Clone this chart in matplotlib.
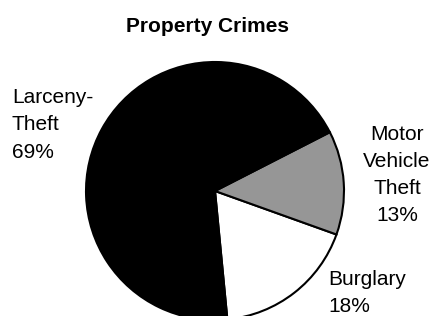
import matplotlib.pyplot as plt

# slices in drawing order (counter-clockwise from bottom)
categories = ["Burglary", "Motor Vehicle Theft", "Larceny-Theft"]
shares = [18, 13, 69]
colors = ["white", "#969696", "black"]
labels = ["Burglary\n18%", "Motor\nVehicle\nTheft\n13%", "Larceny-\nTheft\n69%"]

plt.rcParams['font.family'] = ['Liberation Sans', 'DejaVu Sans']

fig = plt.figure(figsize=(4.3, 3.16), dpi=100)
ax = fig.add_axes([0, 0, 1, 1])

# pie centre / radius in pixel units of the 430x316 canvas
ax.pie(shares, colors=colors, startangle=-84.5, counterclock=True,
       center=(215, 316 - 191), radius=129,
       wedgeprops=dict(edgecolor="black", linewidth=1.5))
ax.set_xlim(0, 430)
ax.set_ylim(0, 316)
ax.set_aspect("equal")
ax.axis("off")

# labels, placed like the original
ls = 1.55
ax.text(12, 316 - 125, labels[2], ha="left", va="center", fontsize=15, linespacing=ls)
ax.text(397, 316 - 175, labels[1], ha="center", va="center", fontsize=15, linespacing=ls)
ax.text(328, 316 - 293, labels[0], ha="left", va="center", fontsize=15, linespacing=ls)

ax.text(207, 316 - 26, "Property Crimes", ha="center", va="center",
        fontsize=15, fontweight="bold")

fig.savefig("out.png", dpi=100)
